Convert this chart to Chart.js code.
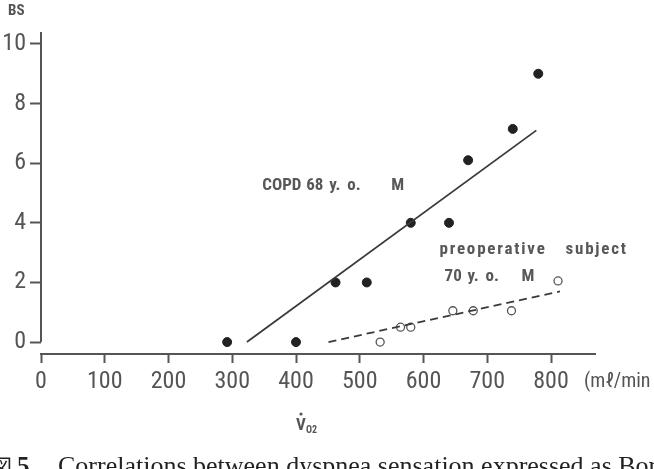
<!DOCTYPE html>
<html>
<head>
<meta charset="utf-8">
<script src="https://cdn.jsdelivr.net/npm/chart.js@4.4.1/dist/chart.umd.min.js"></script>
<style>
    html, body { margin: 0; padding: 0; background: #fff; }
    canvas { display: block; }
</style>
</head>
<body>
<canvas id="chart" width="654" height="469"></canvas>
<script>
    // COPD patient, 68 y.o. male (filled dots)
    var copdX = [292, 400, 462, 511, 580, 640, 670, 740, 780];
    var copdY = [0, 0, 2, 2, 4, 4, 6.1, 7.15, 9];

    // preoperative subject, 70 y.o. male (open circles)
    var preopX = [532, 564, 580, 646, 678, 738, 811];
    var preopY = [0, 0.5, 0.5, 1.05, 1.05, 1.05, 2.05];

    // regression lines, end points
    var copdFitX = [323, 777];
    var copdFitY = [0, 7.1];
    var preopFitX = [451, 814];
    var preopFitY = [0, 1.7];

    var xTicks = [0, 100, 200, 300, 400, 500, 600, 700, 800];
    var yTicks = [0, 2, 4, 6, 8, 10];

    var INK = '#3a3a3a';
    var GREY = '#555555';
    var LABEL = '#585858';
    var TICK_FONT = "'Liberation Sans Narrow', 'Roboto Condensed', 'Liberation Sans', sans-serif";

    function points(xs, ys) {
        return xs.map(function (x, i) {
            return { x: x, y: ys[i] };
        });
    }

    // draws pieces of a label at fixed offsets from an anchor, keeps the wide word gaps of the figure
    function pieces(ctx, x, y, parts) {
        parts.forEach(function (p) {
            ctx.fillText(p[0], x + p[1], y);
        });
    }

    var annotations = {
        id: 'annotations',
        afterDraw: function (chart) {
            var ctx = chart.ctx;
            var xs = chart.scales.x;
            var ys = chart.scales.y;
            var area = chart.chartArea;

            ctx.save();

            // y axis line stops at 0, the x axis sits a little lower
            ctx.strokeStyle = GREY;
            ctx.lineWidth = 2;
            ctx.beginPath();
            ctx.moveTo(area.left, ys.getPixelForValue(0));
            ctx.lineTo(area.left, area.top);
            ctx.stroke();

            ctx.fillStyle = LABEL;
            ctx.textBaseline = 'middle';
            ctx.textAlign = 'left';

            ctx.font = "bold 17px " + TICK_FONT;
            pieces(ctx, xs.getPixelForValue(347), ys.getPixelForValue(5.24), [
                ['COPD', 0], ['68', 44], ['y.', 67], ['o.', 85], ['M', 129]
            ]);
            pieces(ctx, xs.getPixelForValue(633), ys.getPixelForValue(2.2), [
                ['70', 0], ['y.', 23], ['o.', 41], ['M', 77]
            ]);

            ctx.letterSpacing = '1.8px';
            pieces(ctx, xs.getPixelForValue(625), ys.getPixelForValue(3.1), [
                ['preoperative', 0], ['subject', 126]
            ]);
            ctx.letterSpacing = '0px';

            ctx.fillStyle = GREY;
            ctx.font = "bold 15px " + TICK_FONT;
            ctx.fillText('BS', 8, 11);

            ctx.font = "20px " + TICK_FONT;
            ctx.fillText('(m\u2113/min', 584, 382);

            // V-dot O2 label
            ctx.font = "bold 17px " + TICK_FONT;
            ctx.fillText('V', 296, 426);
            ctx.font = "bold 10px " + TICK_FONT;
            ctx.fillText('O2', 306, 430);
            ctx.beginPath();
            ctx.arc(301, 414, 1.6, 0, Math.PI * 2);
            ctx.fill();

            // caption, cut off by the bottom edge
            ctx.fillStyle = '#222';
            ctx.textBaseline = 'alphabetic';
            ctx.font = "21px 'Noto Sans CJK JP'";
            ctx.fillText('\u56f3', -9, 474);
            ctx.font = "bold 25px 'Liberation Serif', serif";
            ctx.fillText('5', 17, 474);
            ctx.font = "26px 'Liberation Serif', serif";
            ctx.fillText('Correlations between dyspnea sensation expressed as Borg scale', 58, 474);

            ctx.restore();
        }
    };

    new Chart(document.getElementById('chart'), {
        type: 'scatter',
        data: {
            datasets: [{
                label: 'COPD fit',
                data: points(copdFitX, copdFitY),
                showLine: true,
                borderColor: INK,
                borderWidth: 1.8,
                pointRadius: 0
            }, {
                label: 'preoperative fit',
                data: points(preopFitX, preopFitY),
                showLine: true,
                borderColor: INK,
                borderWidth: 1.8,
                borderDash: [8, 5],
                pointRadius: 0
            }, {
                label: 'COPD 68 y.o. M',
                data: points(copdX, copdY),
                backgroundColor: '#222',
                borderColor: '#222',
                pointRadius: 4.5
            }, {
                label: 'preoperative subject 70 y.o. M',
                data: points(preopX, preopY),
                backgroundColor: '#fff',
                borderColor: GREY,
                borderWidth: 1.3,
                pointRadius: 4
            }]
        },
        options: {
            responsive: false,
            animation: false,
            layout: { padding: { top: 32, right: 59, bottom: 0, left: 0 } },
            plugins: {
                legend: { display: false },
                tooltip: { enabled: false }
            },
            scales: {
                x: {
                    type: 'linear',
                    min: 0,
                    max: 869,
                    afterBuildTicks: function (scale) {
                        scale.ticks = xTicks.map(function (v) { return { value: v }; });
                    },
                    afterFit: function (scale) {
                        scale.height = 115;
                    },
                    border: { display: true, color: GREY, width: 2 },
                    grid: {
                        display: true,
                        drawOnChartArea: false,
                        drawTicks: true,
                        tickLength: 9,
                        tickColor: GREY,
                        tickWidth: 2
                    },
                    ticks: {
                        color: GREY,
                        padding: 5,
                        maxRotation: 0,
                        autoSkip: false,
                        font: { family: TICK_FONT, size: 24 }
                    }
                },
                y: {
                    type: 'linear',
                    min: -0.4,
                    max: 10.4,
                    afterBuildTicks: function (scale) {
                        scale.ticks = yTicks.map(function (v) { return { value: v }; });
                    },
                    afterFit: function (scale) {
                        scale.width = 41;
                    },
                    border: { display: false },
                    grid: {
                        display: true,
                        drawOnChartArea: false,
                        drawTicks: true,
                        tickLength: 11,
                        tickColor: GREY,
                        tickWidth: 2
                    },
                    ticks: {
                        color: GREY,
                        padding: 4,
                        autoSkip: false,
                        font: { family: TICK_FONT, size: 24 }
                    }
                }
            }
        },
        plugins: [annotations]
    });
</script>
</body>
</html>
